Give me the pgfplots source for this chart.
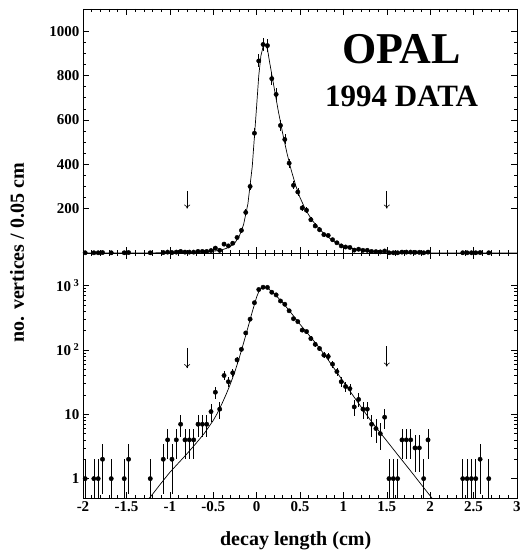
\documentclass[border=0pt]{standalone}
\usepackage{fontspec}
\setmainfont{Liberation Serif}
\usepackage{pgfplots}
\pgfplotsset{compat=1.18}
\usepackage{pgfplotstable}
\usetikzlibrary{arrows.meta}

\pgfplotstableread{
x y ep em
-1.975 1 1 0.999
-1.875 1 1 0.999
-1.825 1 1 0.999
-1.775 2 1.414 1.414
-1.675 1 1 0.999
-1.525 1 1 0.999
-1.475 2 1.414 1.414
-1.225 1 1 0.999
-1.075 2 1.414 1.414
-1.025 4 2 2
-0.975 2 1.414 1.414
-0.925 4 2 2
-0.875 7 2.646 2.646
-0.825 4 2 2
-0.775 4 2 2
-0.725 4 2 2
-0.675 7 2.646 2.646
-0.625 7 2.646 2.646
-0.575 7 2.646 2.646
-0.525 11 3.317 3.317
-0.475 22 4.690 4.690
-0.425 12 3.464 3.464
-0.375 40 6.325 6.325
-0.325 32 5.657 5.657
-0.275 44 6.633 6.633
-0.225 70 8.367 8.367
-0.175 102 10.100 10.100
-0.125 183 13.528 13.528
-0.075 300 17.321 17.321
-0.025 540 23.238 23.238
0.025 866 29.428 29.428
0.075 940 30.659 30.659
0.125 935 30.578 30.578
0.175 786 28.036 28.036
0.225 715 26.740 26.740
0.275 575 23.979 23.979
0.325 512 22.627 22.627
0.375 405 20.125 20.125
0.425 305 17.464 17.464
0.475 275 16.583 16.583
0.525 203 14.248 14.248
0.575 193 13.892 13.892
0.625 150 12.247 12.247
0.675 122 11.045 11.045
0.725 105 10.247 10.247
0.775 83 9.110 9.110
0.825 79 8.888 8.888
0.875 60 7.746 7.746
0.925 46 6.782 6.782
0.975 32 5.657 5.657
1.025 27 5.196 5.196
1.075 25 5 5
1.125 13 3.606 3.606
1.175 17 4.123 4.123
1.225 12 3.464 3.464
1.275 12 3.464 3.464
1.325 7 2.646 2.646
1.375 6 2.449 2.449
1.425 5 2.236 2.236
1.475 9 3 3
1.525 1 1 0.999
1.575 1 1 0.999
1.625 1 1 0.999
1.675 4 2 2
1.725 4 2 2
1.775 4 2 2
1.825 3 1.732 1.732
1.875 3 1.732 1.732
1.925 1 1 0.999
1.975 4 2 2
2.375 1 1 0.999
2.425 1 1 0.999
2.475 1 1 0.999
2.525 1 1 0.999
2.575 2 1.414 1.414
2.675 1 1 0.999
}\datatab

\pgfplotstableread{
x y
-2.0 0.01
-1.6 0.1
-1.235 0.5
-1.2 0.57
-1.1 0.85
-1.0 1.25
-0.9 1.75
-0.8 2.45
-0.7 3.5
-0.6 5.1
-0.5 8.0
-0.45 10.5
-0.4 14.5
-0.35 20.5
-0.3 30
-0.25 46
-0.2 75
-0.15 128
-0.1 222
-0.05 390
0.0 660
0.025 800
0.05 890
0.075 930
0.1 940
0.125 920
0.15 860
0.2 750
0.25 640
0.3 540
0.35 450
0.4 372
0.45 305
0.5 250
0.55 207
0.6 172
0.65 143
0.7 118
0.8 78
0.9 50
1.0 32
1.1 20.5
1.2 13.2
1.3 8.5
1.4 5.7
1.5 3.85
1.6 2.6
1.7 1.76
1.8 1.19
1.9 0.8
2.0 0.54
2.02 0.5
2.4 0.1
3.0 0.01
}\fittab

\begin{document}
\begin{tikzpicture}
\pgfplotsset{
  panel/.style={
    scale only axis, width=434pt, xmin=-2, xmax=3,
    xtick={-2,-1.5,-1,-0.5,0,0.5,1,1.5,2,2.5,3},
    minor x tick num=4,
    tick align=inside, major tick length=6pt, minor tick length=3pt,
    axis line style={line width=0.9pt},
    every tick/.style={black, line width=0.5pt},
    /pgf/number format/assume math mode=true,
    ticklabel style={font=\fontsize{15}{15}\selectfont\bfseries},
    label style={font=\fontsize{20}{22}\selectfont\bfseries},
  },
  datastyle/.style={black, only marks, mark=*, mark size=2.2pt,
    mark options={fill=black, draw=black},
    error bars/.cd, y dir=both, y explicit, error mark=none,
    error bar style={line width=0.6pt, black}},
}
% bottom (log) panel
\begin{axis}[panel, height=245pt, at={(0,0)},
  ymode=log, ymin=0.5, ymax=3200,
  ytick={1,10,100,1000},
  yticklabels={1,10,10\,\textsuperscript{2},10\,\textsuperscript{3}},
  xticklabels={-2,-1.5,-1,-0.5,0,0.5,1,1.5,2,2.5,3},
  xlabel={decay length (cm)},
  xlabel style={at={(axis description cs:0.49,-0.1755)}, anchor=center},
  ylabel={no. vertices / 0.05 cm},
  ylabel style={at={(axis description cs:-0.152,1)}, anchor=center},
]
\addplot[black, line width=0.7pt] table[x=x,y=y] {\fittab};
\addplot[datastyle] table[x=x,y=y,y error plus=ep,y error minus=em] {\datatab};
\draw[-{To[length=4pt,width=6pt]}, line width=0.6pt] (axis cs:-0.8,107) -- (axis cs:-0.8,52);
\draw[-{To[length=4pt,width=6pt]}, line width=0.6pt] (axis cs:1.5,113) -- (axis cs:1.5,55);
\end{axis}
% top (linear) panel
\begin{axis}[panel, height=244pt, at={(0,245pt)},
  ymin=0, ymax=1100,
  ytick={200,400,600,800,1000},
  yticklabels={200,400,600,800,1000},
  minor y tick num=3,
  xticklabels={},
]
\addplot[black, line width=0.7pt] table[x=x,y=y] {\fittab};
\addplot[datastyle] table[x=x,y=y,y error plus=ep,y error minus=em] {\datatab};
\draw[-{To[length=4pt,width=6pt]}, line width=0.6pt] (axis cs:-0.8,280) -- (axis cs:-0.8,200);
\draw[-{To[length=4pt,width=6pt]}, line width=0.6pt] (axis cs:1.5,280) -- (axis cs:1.5,200);
\node[font=\fontsize{44}{44}\selectfont\bfseries] at (axis cs:1.67,920) {OPAL};
\node[font=\fontsize{31}{31}\selectfont\bfseries] at (axis cs:1.67,708) {1994 DATA};
\end{axis}
\pgfresetboundingbox
\path (-83pt,-57pt) rectangle (439pt,498pt);
\end{tikzpicture}
\end{document}
